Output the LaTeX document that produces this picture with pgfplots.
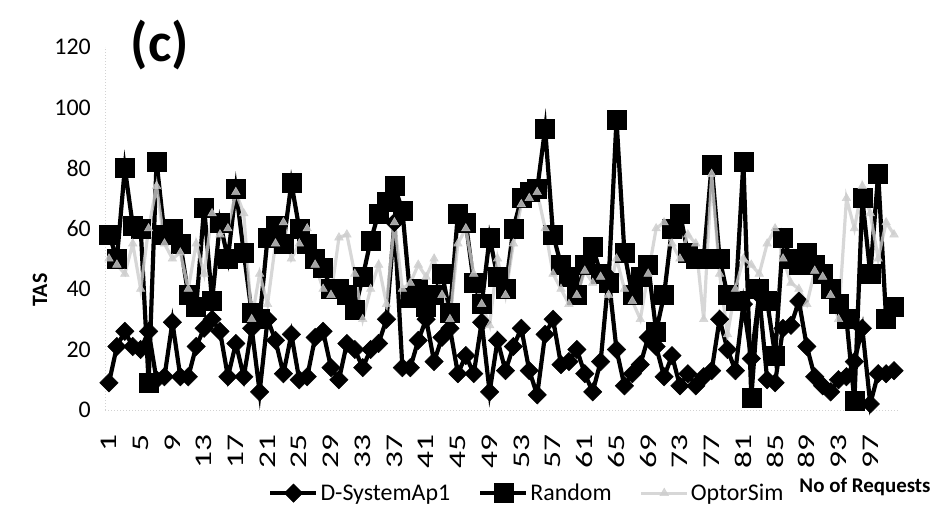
\documentclass[border=0pt]{standalone}
\usepackage{pgfplots}
\pgfplotsset{compat=1.18}
\usepackage{pgfplotstable}
\usepackage{fontspec}
\setmainfont{Carlito}

% Request index, D-SystemAp1 (ds), Random (rnd), OptorSim (opt)
\pgfplotstableread{
i ds rnd opt
1 9 58 50
2 21 50 48
3 26 80 45
4 21 61 55
5 20 60 40
6 26 9 60
7 10 82 74
8 11 58 55
9 29 60 50
10 11 55 52
11 11 38 40
12 21 34 55
13 27 67 45
14 30 36 65
15 26 62 58
16 11 50 60
17 22 73 72
18 11 52 65
19 27 32 30
20 6 30 45
21 30 57 35
22 23 61 55
23 12 55 62
24 25 75 50
25 10 60 55
26 11 55 60
27 24 50 48
28 26 47 40
29 14 40 38
30 10 40 57
31 22 38 58
32 20 33 45
33 14 44 30
34 20 56 40
35 22 65 48
36 30 69 35
37 62 74 62
38 14 66 40
39 14 37 42
40 23 40 48
41 30 34 44
42 16 38 50
43 24 45 38
44 27 32 30
45 12 65 55
46 18 62 60
47 12 42 45
48 29 35 35
49 6 57 28
50 23 44 50
51 13 40 38
52 21 60 55
53 27 70 68
54 13 72 70
55 5 73 72
56 25 93 60
57 30 58 45
58 15 48 40
59 16 44 35
60 20 38 38
61 12 48 46
62 6 54 42
63 16 45 44
64 44 42 38
65 20 96 50
66 8 52 40
67 12 38 36
68 15 44 30
69 24 48 45
70 21 26 60
71 11 38 62
72 18 60 55
73 8 65 50
74 12 52 58
75 8 50 55
76 11 50 30
77 13 81 78
78 30 50 45
79 20 38 25
80 13 36 40
81 35 82 50
82 17 4 48
83 38 40 45
84 10 36 55
85 9 18 60
86 27 57 50
87 28 50 42
88 36 48 40
89 21 52 35
90 11 48 46
91 8 45 44
92 6 40 38
93 10 35 30
94 11 30 70
95 16 3 60
96 27 70 74
97 2 45 65
98 12 78 50
99 12 30 62
100 13 34 58
}\reqdata

\definecolor{optgray}{RGB}{205,205,205}

\begin{document}
\begin{tikzpicture}
\useasboundingbox (0,0) rectangle (931bp,519bp);
\begin{axis}[
  /pgf/number format/assume math mode=true,
  /pgfplots/.cd,
  at={(105bp,109bp)}, anchor=south west,
  scale only axis, width=793bp, height=363bp,
  xmin=0.5, xmax=100.5, ymin=0, ymax=120,
  xtick={1,5,...,97}, ytick={0,20,...,120},
  xtick pos=bottom, ytick pos=left,
  major tick length=0pt,
  axis line style={draw=none},
  tick label style={font=\fontsize{24}{26}\selectfont},
  x tick label style={rotate=90, xscale=1.4, anchor=east, inner sep=0bp, xshift=-17bp},
  y tick label style={anchor=east, inner sep=0bp, xshift=-14bp},
  clip=false,
  legend columns=3,
  legend style={at={(0.532,-0.229)}, anchor=center, draw=none, fill=none,
    font=\fontsize{24}{26}\selectfont,
    /tikz/every even column/.append style={column sep=26bp}},
  legend image code/.code={
    \draw[mark repeat=2, mark phase=2] plot coordinates {(0bp,0bp) (23bp,0bp) (46bp,0bp)};},
]
% faint axis lines
\draw[gray!35, line width=0.6bp, dash pattern=on 1bp off 2bp] (rel axis cs:0,0) -- (rel axis cs:0,1);
\draw[gray!35, line width=0.6bp, dash pattern=on 1bp off 2bp] (rel axis cs:0,0) -- (rel axis cs:1,0);
\addplot[black, line width=4.2bp, mark=square*, mark size=6.5bp,
  mark options={rotate=45, solid, line width=0.5bp}]
  table[x=i, y=ds] {\reqdata};
\addlegendentry{D-SystemAp1}
\addplot[black, line width=4.2bp, mark=square*, mark size=9.5bp,
  mark options={solid, line width=0.5bp}]
  table[x=i, y=rnd] {\reqdata};
\addlegendentry{Random}
\addplot[optgray, line width=3.2bp, opacity=0.8, mark=triangle*, mark size=5bp,
  mark options={solid, line width=0.5bp}]
  table[x=i, y=opt] {\reqdata};
\addlegendentry{OptorSim}
\end{axis}
\node[font=\bfseries\fontsize{56}{58}\selectfont] at (160bp,474bp) {(c)};
\node[font=\bfseries\fontsize{22}{24}\selectfont, rotate=90] at (40bp,229bp) {TAS};
\node[font=\bfseries\fontsize{21}{23}\selectfont] at (865bp,32bp) {No of Requests};
\end{tikzpicture}
\end{document}
